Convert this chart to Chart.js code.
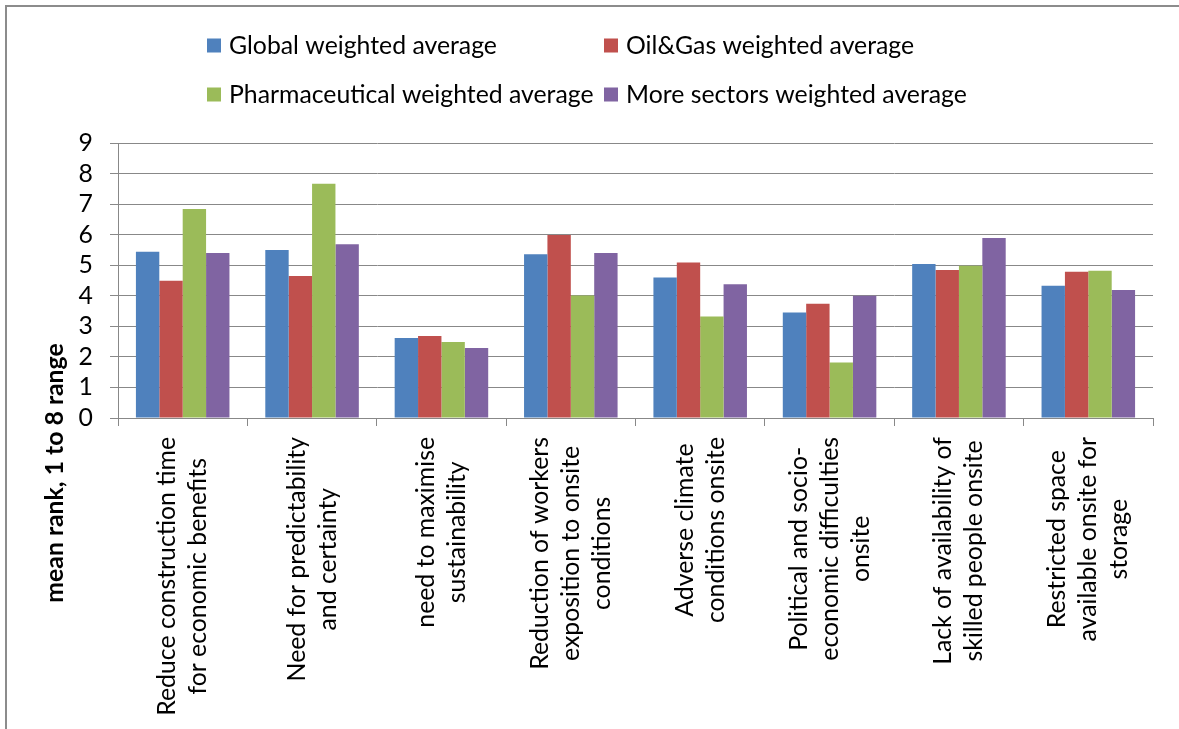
<!DOCTYPE html>
<html>
<head>
<meta charset="utf-8">
<script src="https://cdn.jsdelivr.net/npm/chart.js@4"></script>
<style>
  html, body { margin: 0; padding: 0; background: #fff; }
  #wrap { position: relative; width: 1179px; height: 729px; overflow: hidden; }
  #frame { position: absolute; left: 5px; top: 5px; width: 1200px; height: 800px;
           border-left: 2px solid #8c8c8c; border-top: 2px solid #8c8c8c; }
  canvas { position: absolute; left: 0; top: 0; }
</style>
</head>
<body>
<div id="wrap">
  <div id="frame"></div>
  <canvas id="grafico"></canvas>
</div>
<script>
const categorias = [
    ["Reduce construction time", "for economic benefits"],
    ["Need for predictability", "and certainty"],
    ["need to maximise", "sustainability"],
    ["Reduction of workers", "exposition to onsite", "conditions"],
    ["Adverse climate", "conditions onsite"],
    ["Political and socio-", "economic difficulties", "onsite"],
    ["Lack of availability of", "skilled people onsite"],
    ["Restricted space", "available onsite for", "storage"]
]
const nomesSeries = ["Global weighted average", "Oil&Gas weighted average", "Pharmaceutical weighted average", "More sectors weighted average"]
const globalAvg = [5.44, 5.50, 2.62, 5.36, 4.60, 3.45, 5.04, 4.33]
const oilGasAvg = [4.49, 4.65, 2.68, 5.99, 5.09, 3.74, 4.84, 4.79]
const pharmaAvg = [6.84, 7.67, 2.49, 4.01, 3.32, 1.82, 4.98, 4.82]
const maisSetoresAvg = [5.40, 5.69, 2.29, 5.40, 4.38, 4.00, 5.89, 4.19]
const cores = ["#4f81bd", "#c0504d", "#9bbb59", "#8064a2"]
const tituloY = "mean rank, 1 to 8 range"

// fit the substitute font to the width Calibri gave in the original
const familia = "Lato"
const medir = document.createElement("canvas").getContext("2d")
medir.font = "100px " + familia
const tamFonte = Math.round(100 * 268 / medir.measureText("Global weighted average").width * 10) / 10

Chart.defaults.font.family = familia
Chart.defaults.font.size = tamFonte
Chart.defaults.color = "#000"

// legend drawn by hand: Excel puts it in two fixed columns
const legendaManual = {
    id: "legendaManual",
    afterDraw(chart) {
        const ctx = chart.ctx
        const colX = [207, 604]
        const rowY = [45.5, 94.5]
        ctx.save()
        ctx.font = tamFonte + "px " + familia
        ctx.textBaseline = "middle"
        ctx.textAlign = "left"
        chart.data.datasets.forEach((ds, i) => {
            const x = colX[i % 2]
            const y = rowY[Math.floor(i / 2)]
            ctx.fillStyle = ds.backgroundColor
            ctx.fillRect(x, y - 7, 14, 14)
            ctx.fillStyle = "#000"
            ctx.fillText(ds.label, x + 22, y + 1)
        })
        ctx.restore()
    }
}

// category labels: rotated, lines centred on each other, top aligned
const rotulosX = {
    id: "rotulosX",
    afterDraw(chart) {
        const ctx = chart.ctx
        const escala = chart.scales.x
        const topo = escala.top + 19
        const alturaLinha = 31
        ctx.save()
        ctx.font = tamFonte + "px " + familia
        ctx.fillStyle = "#000"
        ctx.textAlign = "center"
        ctx.textBaseline = "middle"
        chart.data.labels.forEach((linhas, i) => {
            const x = escala.getPixelForValue(i)
            const maxW = Math.max(...linhas.map(l => ctx.measureText(l).width))
            ctx.save()
            ctx.translate(x, topo)
            ctx.rotate(-Math.PI / 2)
            linhas.forEach((l, j) => {
                ctx.fillText(l, -maxW / 2, (j - (linhas.length - 1) / 2) * alturaLinha)
            })
            ctx.restore()
        })
        // y title, centred on the whole frame like the original
        ctx.font = "bold " + tamFonte + "px " + familia
        ctx.translate(55, 473)
        ctx.rotate(-Math.PI / 2)
        ctx.fillText(tituloY, 0, 0)
        ctx.restore()
    }
}

const prepararDados = () => {
    const series = [globalAvg, oilGasAvg, pharmaAvg, maisSetoresAvg]
    return {
        labels: categorias,
        datasets: series.map((data, i) => ({
            label: nomesSeries[i],
            data,
            backgroundColor: cores[i],
            borderWidth: 0,
            categoryPercentage: 0.723,
            barPercentage: 1.0
        }))
    }
}

const criarGrafico = () => {
    const ctx = document.querySelector("#grafico")
    new Chart(ctx, {
        type: "bar",
        data: prepararDados(),
        plugins: [legendaManual, rotulosX],
        options: {
            responsive: true,
            maintainAspectRatio: false,
            animation: false,
            layout: { padding: { top: 143, right: 26, left: 0, bottom: 0 } },
            plugins: {
                legend: { display: false },
                tooltip: { enabled: false }
            },
            scales: {
                x: {
                    ticks: { display: false },
                    grid: { drawOnChartArea: false, drawTicks: true, tickLength: 8, color: "#888", offset: true },
                    border: { color: "#888" },
                    afterFit: (s) => { s.height = 311 }
                },
                y: {
                    min: 0,
                    max: 9,
                    ticks: { stepSize: 1, padding: 17, color: "#000", autoSkip: false },
                    grid: { color: "#888", tickLength: 8 },
                    border: { color: "#888" },
                    afterFit: (s) => { s.width = 118 }
                }
            }
        }
    })
}

criarGrafico()
</script>
</body>
</html>
